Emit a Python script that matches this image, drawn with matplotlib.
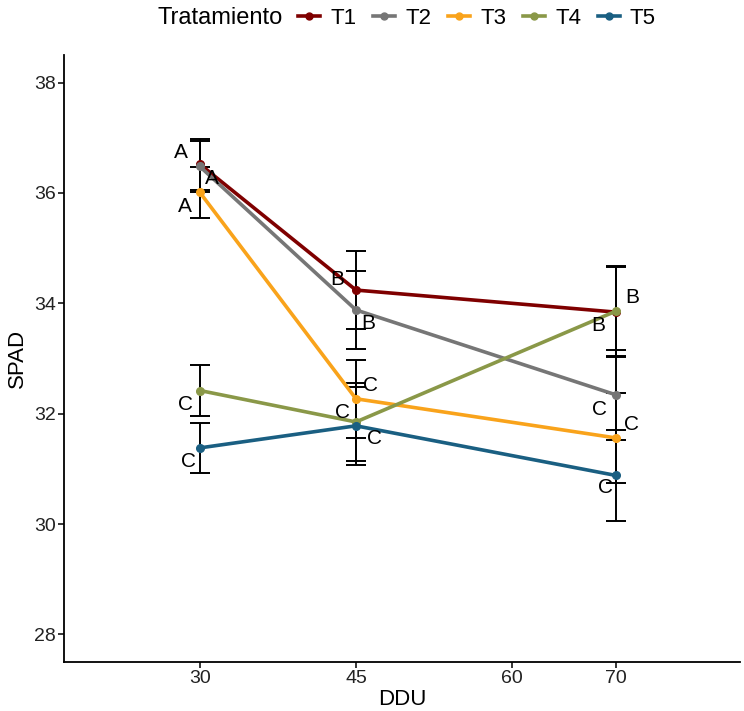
import numpy as np
import matplotlib
matplotlib.use("Agg")
import matplotlib.pyplot as plt
from matplotlib.lines import Line2D

plt.rcParams["font.family"] = ["Liberation Sans", "DejaVu Sans"]

# data
ddu = [30, 45, 70]
treatments = ["T1", "T2", "T3", "T4", "T5"]
colors = ["#7f0000", "#767676", "#f9a31b", "#8a9848", "#1a5f82"]
spad = {
    "T1": [36.52, 34.24, 33.84],
    "T2": [36.48, 33.88, 32.34],
    "T3": [36.01, 32.27, 31.56],
    "T4": [32.42, 31.85, 33.86],
    "T5": [31.38, 31.78, 30.88],
}
se = [0.46, 0.71, 0.82]
letters = {
    "T1": ["A", "B", "B"],
    "T2": ["A", "B", "C"],
    "T3": ["A", "C", "C"],
    "T4": ["C", "C", "B"],
    "T5": ["C", "C", "C"],
}
# label offsets in pixels (dx, dy) relative to each point
offsets = {
    "T1": [(-19, 12), (-19, 11), (16, 15)],
    "T2": [(12, -12), (12, -14), (-17, -15)],
    "T3": [(-15, -14), (15, 13), (15, 13)],
    "T4": [(-14, -14), (-13, 9), (-18, -14)],
    "T5": [(-11, -14), (19, -13), (-11, -12)],
}

fig = plt.figure(figsize=(7.44, 7.11), dpi=100)
ax = fig.add_axes([64 / 744, 1 - 662 / 711, (740 - 64) / 744, (662 - 55) / 711])

for t in treatments:
    ax.errorbar(ddu, spad[t], yerr=se, fmt="none", ecolor="black",
                elinewidth=1.4, capsize=7, capthick=1.4, zorder=2)

for t, c in zip(treatments, colors):
    ax.plot(ddu, spad[t], "-o", color=c, lw=2.6, ms=5.5, zorder=3)
    for i, x in enumerate(ddu):
        ax.annotate(letters[t][i], (x, spad[t][i]), xytext=offsets[t][i],
                    textcoords="offset pixels", ha="center", va="center",
                    fontsize=15, color="black", zorder=4)

ax.set_xlim(16.95, 81.9)
ax.set_ylim(27.5, 38.5)
ax.set_xticks([30, 45, 60, 70])
ax.set_yticks([28, 30, 32, 34, 36, 38])
ax.tick_params(labelsize=14, labelcolor="#222222", length=4, width=1.1, pad=2)
for s in ["top", "right"]:
    ax.spines[s].set_visible(False)
for s in ["left", "bottom"]:
    ax.spines[s].set_linewidth(1.3)
ax.set_xlabel("DDU", fontsize=16, labelpad=1)
ax.set_ylabel("SPAD", fontsize=16, labelpad=4)

handles = [Line2D([0], [0], color=c, lw=2.6, marker="o", ms=5) for c in colors]
fig.text(158 / 744, 1 - 18 / 711, "Tratamiento", fontsize=17, va="center", ha="left")
fig.legend(handles, treatments, loc="center left",
           bbox_to_anchor=(298 / 744, 1 - 18 / 711), ncol=5, frameon=False,
           fontsize=16, handlelength=1.0, handletextpad=0.45,
           columnspacing=0.75, borderpad=0, borderaxespad=0)

fig.savefig("out.png", dpi=100)
